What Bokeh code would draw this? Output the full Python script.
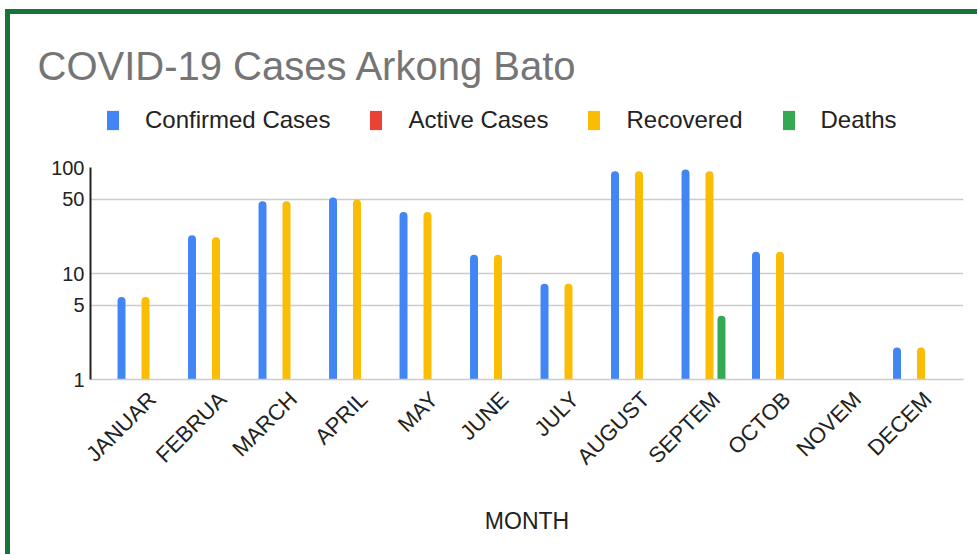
import numpy as np
from bokeh.plotting import figure
from bokeh.layouts import column
from bokeh.models import (Range1d, FixedTicker, ColumnDataSource, Legend,
                          LegendItem)
from bokeh.embed import file_html
from bokeh.resources import INLINE

title_text = "COVID-19 Cases Arkong Bato"
months = ["JANUAR", "FEBRUA", "MARCH", "APRIL", "MAY", "JUNE", "JULY",
          "AUGUST", "SEPTEM", "OCTOB", "NOVEM", "DECEM"]
confirmed = [6, 23, 48, 52, 38, 15, 8, 92, 96, 16, 1, 2]
active = [0, 0, 0, 0, 0, 0, 0, 0, 0, 0, 0, 0]
recovered = [6, 22, 48, 50, 38, 15, 8, 92, 92, 16, 1, 2]
deaths = [0, 1, 0, 1, 0, 0, 0, 0, 4, 0, 0, 0]
y_ticks = [1, 5, 10, 50, 100]

series = [
    ("Confirmed Cases", confirmed, "#4285F4", -0.255),
    ("Active Cases", active, "#EA4335", -0.085),
    ("Recovered", recovered, "#FBBC04", 0.085),
    ("Deaths", deaths, "#34A853", 0.255),
]

FONT = "Liberation Sans"
W = 967
HEAD_H = 138
MAIN_H = 402
X_RANGE = (-0.695, 11.688)

# ---------- header: title + legend ----------
head = figure(width=W, height=HEAD_H, x_range=Range1d(*X_RANGE), y_range=Range1d(1, 100),
              y_axis_type="log", output_backend="svg", toolbar_location=None,
              min_border_left=80, min_border_right=14,
              min_border_top=74, min_border_bottom=0)
head.outline_line_color = None
head.xaxis.visible = False
head.yaxis.visible = False
head.xgrid.visible = False
head.ygrid.visible = False
head.title.text = title_text
head.title.text_font = FONT
head.title.text_font_size = "40px"
head.title.text_font_style = "normal"
head.title.text_color = "#757575"
head.title.align = "left"
head.title.offset = -53
head.title.standoff = 2

# ---------- main chart ----------
p = figure(width=W, height=MAIN_H,
           x_range=Range1d(*X_RANGE), y_range=Range1d(1, 100),
           y_axis_type="log", output_backend="svg", toolbar_location=None,
           min_border_left=80, min_border_right=14,
           min_border_top=15, min_border_bottom=175)
p.outline_line_color = None

idx = np.arange(len(months))
items = []
for name, vals, color, off in series:
    v = np.array(vals, dtype=float)
    top = np.where(v > 0, v, np.nan)
    src = ColumnDataSource(dict(x=idx + off, top=top, bottom=np.ones_like(v)))
    p.vbar(x="x", top="top", bottom="bottom", width=0.113, source=src,
           fill_color=color, line_color=None, border_radius=(4, 4, 0, 0))
    # legend proxy in the header (same data, hidden in the header frame)
    r = head.vbar(x="x", top="top", bottom="bottom", width=0.113, source=src,
                  fill_color=color, line_color=None, visible=False)
    items.append(LegendItem(label=name, renderers=[r]))

legend = Legend(items=items, orientation="horizontal", location=(15, 18),
                border_line_color=None, background_fill_alpha=0,
                inactive_fill_alpha=0,
                padding=0, margin=0, glyph_width=15, glyph_height=24,
                label_standoff=25, spacing=38,
                label_text_font=FONT, label_text_font_size="24px",
                label_text_color="#222222")
head.add_layout(legend, "center")

# y axis
p.yaxis.ticker = FixedTicker(ticks=y_ticks)
p.yaxis.major_label_overrides = {t: str(t) for t in y_ticks}
p.yaxis.major_tick_line_color = None
p.yaxis.minor_tick_line_color = None
p.yaxis.axis_line_color = "#222222"
p.yaxis.axis_line_width = 2
p.yaxis.major_label_text_font = FONT
p.yaxis.major_label_text_font_size = "20px"
p.yaxis.major_label_text_color = "#222222"
p.yaxis.major_label_standoff = 0
p.ygrid.grid_line_color = "#cccccc"
p.ygrid.grid_line_width = 1.5
p.ygrid.ticker = FixedTicker(ticks=y_ticks)

# x axis
tick_pos = [i + 0.18 for i in range(len(months))]
p.xaxis.ticker = FixedTicker(ticks=tick_pos)
p.xaxis.major_label_overrides = {t: m for t, m in zip(tick_pos, months)}
p.xaxis.major_label_orientation = np.pi / 4
p.xaxis.major_tick_line_color = None
p.xaxis.minor_tick_line_color = None
p.xaxis.axis_line_color = "#cccccc"
p.xaxis.axis_line_width = 1.5
p.xaxis.major_label_text_font = FONT
p.xaxis.major_label_text_font_size = "22px"
p.xaxis.major_label_text_color = "#222222"
p.xaxis.major_label_standoff = 10
p.xaxis.axis_label = "MONTH"
p.xaxis.axis_label_text_font = FONT
p.xaxis.axis_label_text_font_size = "23px"
p.xaxis.axis_label_text_font_style = "normal"
p.xaxis.axis_label_text_color = "#222222"
p.xaxis.axis_label_standoff = 27
p.xgrid.grid_line_color = None

layout = column(head, p, spacing=0)
layout.styles = {"border-top": "5px solid #177437", "border-left": "5px solid #177437",
                 "margin-left": "5px", "margin-top": "9px"}

open("out.html", "w").write(file_html(layout, INLINE))
